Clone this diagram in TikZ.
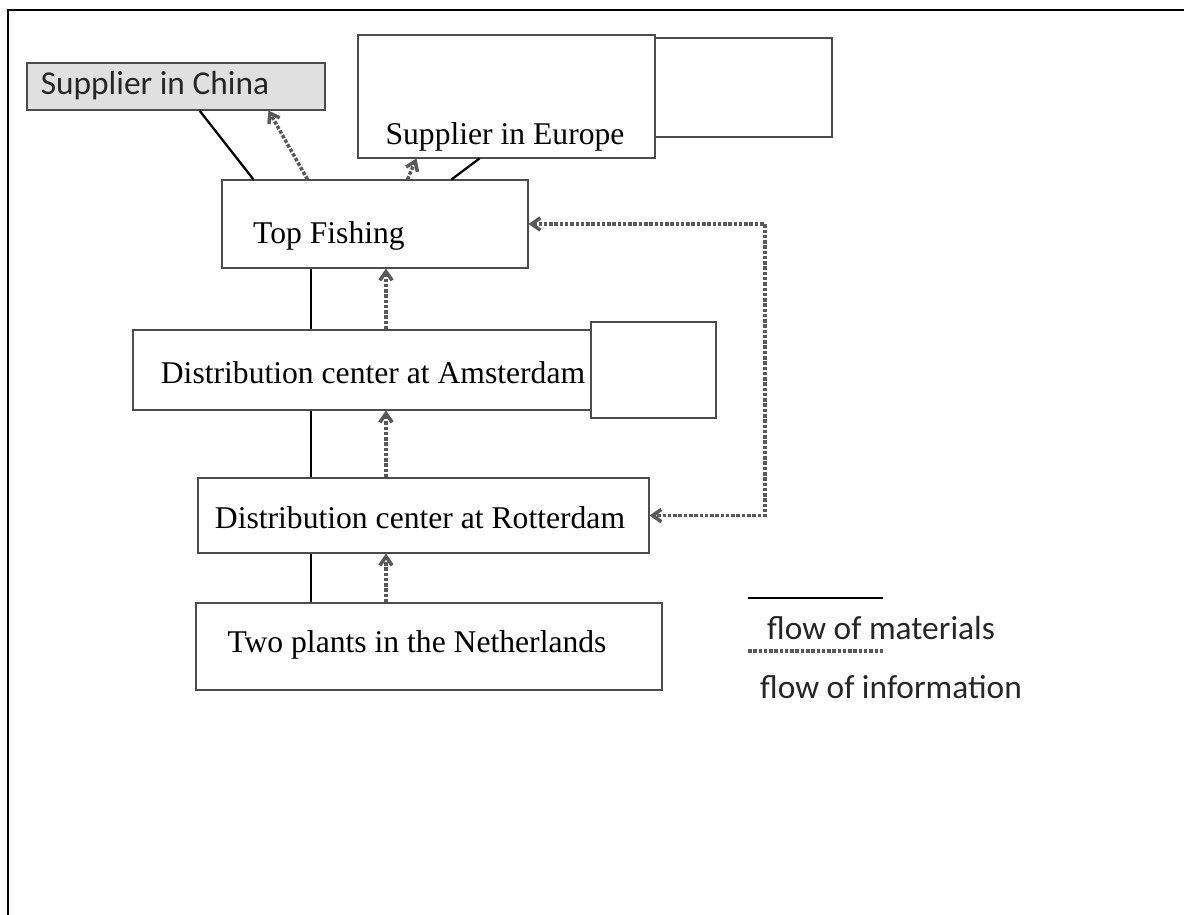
\documentclass[tikz,border=0pt]{standalone}
\usepackage{fontspec}
\setmainfont{Liberation Serif}
\newfontfamily\legendfont{Carlito}
\usetikzlibrary{arrows.meta,calc,fit}

\begin{document}
\begin{tikzpicture}[x=0.02cm, y=-0.02cm, >={Straight Barb[length=5pt,width=7pt]},
  box/.style={draw=black!70, line width=0.6pt, inner sep=0pt},
  txt/.style={font=\fontsize{18}{21}\selectfont},
  sans/.style={font=\legendfont\fontsize{19}{22}\selectfont, text=black!85},
  mat/.style={line width=1.3pt},
  info/.style={densely dotted, line width=2pt, black!65}]
  \useasboundingbox (0,0) rectangle (1184,915);
  \draw[line width=1pt] (1184,10) -| (8,915);

  \node[box, fill=black!12, fit={(27,63) (325,110)}] (china) {};
  \node[sans] (china-t) at (155,86) {Supplier in China};
  \node[box, fit={(358,35) (655,158)}] (europe) {};
  \node[txt] (europe-t) at (505,137) {Supplier in Europe};
  \draw[box] (655,38) rectangle (832,137);

  \node[box, fit={(222,180) (528,268)}] (topfish) {};
  \node[txt] (topfish-t) at (329,236) {Top Fishing};

  \node[box, fit={(133,330) (591,410)}] (amst) {};
  \node[txt] (amst-t) at (373,373) {Distribution center at Amsterdam};
  \draw[box] (591,322) rectangle (716,418);

  \node[box, fit={(198,478) (649,553)}] (rotter) {};
  \node[txt] (rotter-t) at (420,518) {Distribution center at Rotterdam};

  \node[box, fit={(196,603) (662,690)}] (plants) {};
  \node[txt] (plants-t) at (417,645) {Two plants in the Netherlands};

  \coordinate (mx) at (311,0);
  \coordinate (ix) at (386,0);
  \coordinate (loop) at (765,0);

  \draw[mat] ($(china.south west)+(173,0)$) -- ($(topfish.north west)+(32,0)$);
  \draw[info,->] ($(topfish.north west)+(86,0)$) -- ($(china.south west)+(242,0)$);
  \draw[mat] ($(europe.south west)+(122,0)$) -- ($(topfish.north west)+(230,0)$);
  \draw[info,->] ($(topfish.north west)+(186,0)$) -- ($(europe.south west)+(59,0)$);

  \draw[mat] (topfish.south -| mx) -- (amst.north -| mx);
  \draw[info,->] (amst.north -| ix) -- (topfish.south -| ix);
  \draw[mat] (amst.south -| mx) -- (rotter.north -| mx);
  \draw[info,->] (rotter.north -| ix) -- (amst.south -| ix);
  \draw[mat] (rotter.south -| mx) -- (plants.north -| mx);
  \draw[info,->] (plants.north -| ix) -- (rotter.south -| ix);

  \draw[info,<->] (topfish.east) -- (topfish.east -| loop) -- (rotter.east -| loop) -- (rotter.east);

  \coordinate (mat-a) at (748,598);
  \coordinate (mat-b) at (883,598);
  \coordinate (info-a) at (748,651);
  \coordinate (info-b) at (883,651);
  \draw[mat] (mat-a) -- (mat-b);
  \node[sans] (mat-t) at (881,628) {flow of materials};
  \draw[info] (info-a) -- (info-b);
  \node[sans] (info-t) at (891,687) {flow of information};
\end{tikzpicture}
\end{document}
